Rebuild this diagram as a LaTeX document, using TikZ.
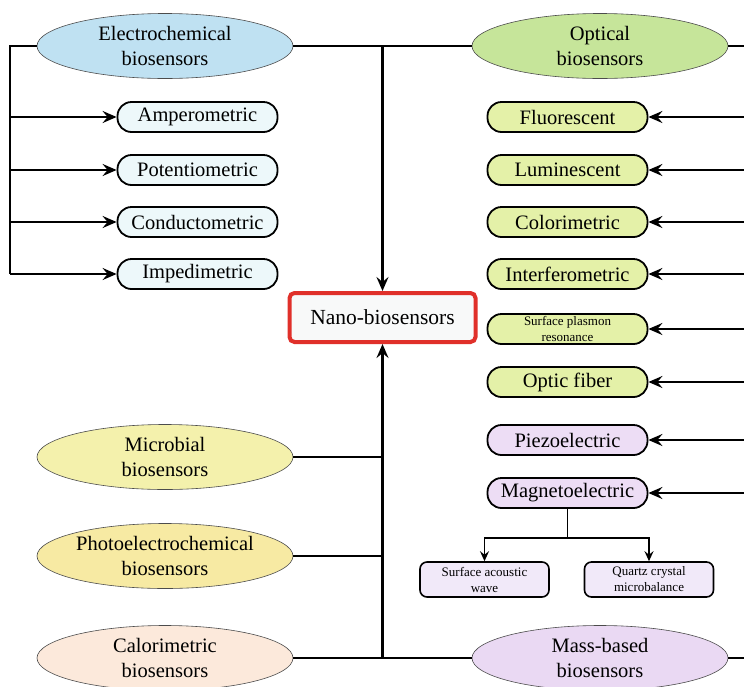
\documentclass[tikz,border=0pt]{standalone}
\usepackage{fontspec}
\setmainfont{Liberation Serif}
\usetikzlibrary{shapes.geometric,arrows.meta}
\definecolor{cElec}{HTML}{BFE1F2}
\definecolor{cElecBox}{HTML}{EDF8FA}
\definecolor{cOpt}{HTML}{C6E59A}
\definecolor{cOptBox}{HTML}{E4F1A8}
\definecolor{cPurBox}{HTML}{EDDDF5}
\definecolor{cPurSmall}{HTML}{F1E9F9}
\definecolor{cMass}{HTML}{EAD9F3}
\definecolor{cMic}{HTML}{F4F1AC}
\definecolor{cPhoto}{HTML}{F7EAA3}
\definecolor{cCal}{HTML}{FCE9DB}
\definecolor{cNanoB}{HTML}{E0302A}
\definecolor{cNanoF}{HTML}{F8F9F9}
\tikzset{
  big/.style={ellipse, draw=black!70, line width=0.6pt, minimum width=256pt, minimum height=65pt, inner sep=0pt, align=center, font=\fontsize{20.5}{25}\selectfont},
  sub/.style={rounded corners=14pt, draw=black, line width=1.8pt, minimum width=160pt, minimum height=30pt, inner sep=0pt, align=center, font=\fontsize{20.5}{22}\selectfont},
  subsmall/.style={sub, font=\fontsize{13}{16}\selectfont},
  tiny/.style={rounded corners=7pt, draw=black, line width=1.6pt, minimum width=129pt, minimum height=35pt, inner sep=0pt, align=center, font=\fontsize{13}{16}\selectfont, fill=cPurSmall},
  conn/.style={line width=2.6pt, draw=black},
  arr/.style={conn, -{Stealth[length=14pt,width=12pt,inset=5pt]}},
  sarr/.style={line width=1.8pt, -{Stealth[length=10pt,width=9pt,inset=3.5pt]}}
}
\begin{document}
\begin{tikzpicture}[x=1pt,y=-1pt]
\useasboundingbox (0,0) rectangle (744,686);
\clip (0,0) rectangle (744,686);
% main ellipses
\node[big, fill=cElec] (E) at (165,46) {Electrochemical\\biosensors};
\node[big, fill=cOpt] (O) at (600,46) {Optical\\biosensors};
\node[big, fill=cMic] (Mi) at (165,457) {Microbial\\biosensors};
\node[big, fill=cPhoto] (P) at (165,556) {Photoelectrochemical\\biosensors};
\node[big, fill=cCal] (C) at (165,658) {Calorimetric\\biosensors};
\node[big, fill=cMass] (M) at (600,658) {Mass-based\\biosensors};
% centre
\node[draw=cNanoB, line width=4pt, rounded corners=5pt, fill=cNanoF, minimum width=186pt, minimum height=49pt, inner sep=0pt, font=\fontsize{21.5}{24}\selectfont] (N) at (382.5,317.5) {Nano-biosensors};
% left boxes
\node[sub, fill=cElecBox] (amp) at (197.5,117) {Amperometric};
\node[sub, fill=cElecBox] (pot) at (197.5,170) {Potentiometric};
\node[sub, fill=cElecBox] (con) at (197.5,222) {Conductometric};
\node[sub, fill=cElecBox] (imp) at (197.5,274) {Impedimetric};
% right boxes
\node[sub, fill=cOptBox] (flu) at (567.5,117) {Fluorescent};
\node[sub, fill=cOptBox] (lum) at (567.5,170) {Luminescent};
\node[sub, fill=cOptBox] (col) at (567.5,222) {Colorimetric};
\node[sub, fill=cOptBox] (int) at (567.5,274) {Interferometric};
\node[subsmall, fill=cOptBox] (spr) at (567.5,329) {Surface plasmon\\resonance};
\node[sub, fill=cOptBox] (ofb) at (567.5,382) {Optic fiber};
\node[sub, fill=cPurBox] (pie) at (567.5,440) {Piezoelectric};
\node[sub, fill=cPurBox] (mag) at (567.5,493) {Magnetoelectric};
\node[tiny] (saw) at (484.5,579.5) {Surface acoustic\\wave};
\node[tiny] (qcm) at (649,579.5) {Quartz crystal\\microbalance};
% coordinates
\coordinate (ltop) at (10,46);
\coordinate (lbot) at (10,274);
\coordinate (redge) at (744,0);
\coordinate (mj) at (567.5,538);
% top connections
\draw[conn] (E.west) -- (ltop) -- (lbot);
\foreach \b in {amp,pot,con,imp} \draw[arr] (ltop |- \b.west) -- (\b.west);
\draw[conn] (E.east) -- (O.west);
\draw[conn] (O.east) -- (O.east -| redge);
\draw[arr] (E.east -| N.north) -- (N.north);
\foreach \b in {flu,lum,col,int,spr,ofb,pie,mag} \draw[arr] (\b.east -| redge) -- (\b.east);
% bottom connections
\draw[conn] (C.east) -- (M.west);
\draw[conn] (M.east) -- (M.east -| redge);
\draw[arr] (C.east -| N.south) -- (N.south);
\draw[conn] (Mi.east) -- (Mi.east -| N.south);
\draw[conn] (P.east) -- (P.east -| N.south);
% magnetoelectric branches
\draw[line width=1.8pt] (mag.south) -- (mj);
\draw[sarr] (mj) -| (saw.north);
\draw[sarr] (mj) -| (qcm.north);
\end{tikzpicture}
\end{document}
